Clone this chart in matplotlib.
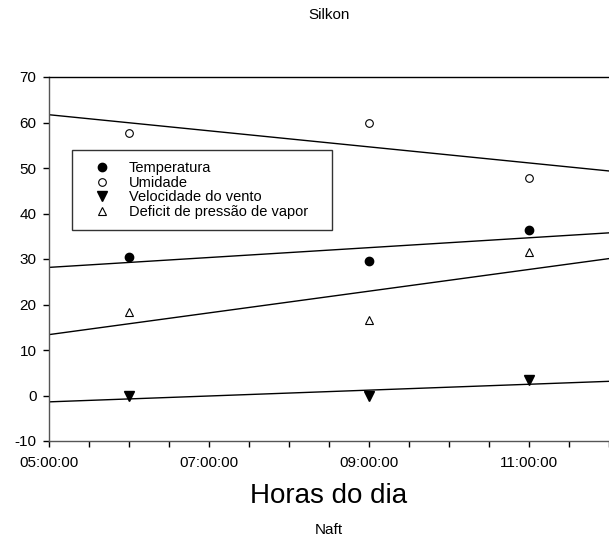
import numpy as np
import matplotlib
matplotlib.use("Agg")
import matplotlib.pyplot as plt
from matplotlib.ticker import MultipleLocator, FuncFormatter

plt.rcParams['font.family'] = ['Liberation Sans', 'DejaVu Sans']
plt.rcParams['axes.unicode_minus'] = False

hours = [6, 9, 11]
temperatura = [30.4, 29.6, 36.4]
umidade = [57.8, 60.0, 47.9]
vento = [-0.2, -0.2, 3.3]
dpv = [18.3, 16.6, 31.5]
labels = ["Temperatura", "Umidade", "Velocidade do vento", "Deficit de pressão de vapor"]
title = "Silkon"
xlabel = "Horas do dia"
subtitle = "Naft"

fig = plt.figure(figsize=(6.09, 5.44), dpi=100)
ax = fig.add_axes([49/609, 1-441/544, 560/609, 364/544])

styles = [
    dict(marker='o', mfc='black', mec='black', ms=6),
    dict(marker='o', mfc='white', mec='black', ms=5.5, mew=0.8),
    dict(marker='v', mfc='black', mec='black', ms=7),
    dict(marker='^', mfc='white', mec='black', ms=6, mew=0.8),
]
series = [temperatura, umidade, vento, dpv]
xs = np.array(hours, dtype=float)
xl = np.array([5.0, 12.0])
handles = []
for ys, st, lab in zip(series, styles, labels):
    h, = ax.plot(xs, ys, linestyle='none', label=lab, **st)
    handles.append(h)
    k, b = np.polyfit(xs, ys, 1)
    ax.plot(xl, k*xl + b, color='black', lw=1)

ax.set_xlim(5, 12)
ax.set_ylim(-10, 70)
ax.xaxis.set_major_locator(MultipleLocator(0.5))
ax.xaxis.set_major_formatter(FuncFormatter(
    lambda v, p: f"{int(round(v)):02d}:00:00" if abs(v - round(v)) < 1e-6 and int(round(v)) % 2 == 1 and v < 12 else ""))
ax.yaxis.set_major_locator(MultipleLocator(10))
ax.tick_params(direction='out', length=4, labelsize=11, width=1)
ax.tick_params(axis='x', pad=7)
ax.tick_params(axis='y', pad=5)
ax.spines['right'].set_visible(False)
for s in ['left', 'bottom', 'top']:
    ax.spines[s].set_linewidth(1)
ax.spines['left'].set_color('#555555')
ax.spines['bottom'].set_color('#555555')

# legend box in axes fraction: x 72..332 px, y 150..230 px
x0 = (72-49)/560
x1 = (332-49)/560
yt = (441-150)/364
yb = (441-230)/364
leg = ax.legend(handles=handles, loc='upper left',
                bbox_to_anchor=(x0, yb, x1-x0, yt-yb), mode='expand',
                fontsize=10.5, frameon=True, fancybox=False, edgecolor='black',
                handlelength=2.6, handletextpad=0.55, labelspacing=0.05,
                borderpad=0.75, borderaxespad=0)
leg.get_frame().set_linewidth(1)

fig.text(329/609, 1-15/544, title, ha='center', va='center', fontsize=11)
fig.text(329/609, 1-496/544, xlabel, ha='center', va='center', fontsize=20)
fig.text(329/609, 1-530/544, subtitle, ha='center', va='center', fontsize=11)

fig.savefig("out.png", dpi=100)
